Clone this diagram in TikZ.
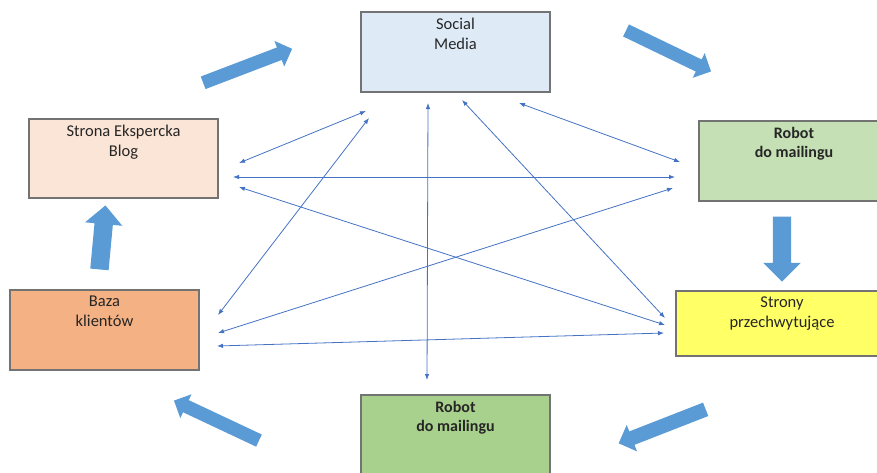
\documentclass[tikz,border=0pt]{standalone}
\usepackage{fontspec}
\setmainfont{Carlito}
\usetikzlibrary{calc,shapes.arrows,arrows.meta}

\definecolor{smfill}{HTML}{DEEBF7}
\definecolor{blogfill}{HTML}{FBE5D6}
\definecolor{robotfill}{HTML}{C5E0B4}
\definecolor{catchfill}{HTML}{FFFF66}
\definecolor{basefill}{HTML}{F4B183}
\definecolor{robot2fill}{HTML}{A9D18E}
\definecolor{arrowblue}{HTML}{5B9BD5}
\definecolor{linkblue}{HTML}{4472C4}

\tikzset{
  box/.style={draw=black!55, line width=1.1pt, minimum width=189pt, minimum height=80pt, inner sep=0pt},
  txt/.style={align=center, inner sep=0pt, anchor=north, text=black!85, font=\fontsize{16.5}{19.5}\selectfont},
  txtb/.style={txt, font=\fontsize{16}{19.5}\selectfont\bfseries},
  link/.style={draw=linkblue, line width=0.8pt, {Latex[length=6pt,width=4.5pt]}-{Latex[length=6pt,width=4.5pt]}},
  blockarrow/.style={single arrow, fill=arrowblue, draw=none, inner sep=0pt, text depth=0pt, single arrow tip angle=90}
}

\begin{document}
\begin{tikzpicture}[x=1pt,y=-1pt]
\useasboundingbox (0,0) rectangle (877,472);

% boxes
\node[box, fill=smfill] (sm) at (455.5,52) {};
\node[txt] (smtext) at ([yshift=-6.5pt]sm.north) {Social\\Media};

\node[box, fill=blogfill, minimum height=79pt] (blog) at (123.5,158.5) {};
\node[txt] (blogtext) at ([yshift=-6.5pt]blog.north) {Strona Ekspercka\\Blog};

\node[box, fill=robotfill, minimum width=190pt] (robot) at (794,161) {};
\node[txtb] (robottext) at ([yshift=-6.5pt]robot.north) {Robot\\do mailingu};

\node[box, fill=catchfill, minimum width=212pt, minimum height=65pt] (catch) at (782,323.5) {};
\node[txt] (catchtext) at ([yshift=-6.5pt]catch.north) {Strony\\przechwytujące};

\node[box, fill=basefill] (base) at (104.5,330) {};
\node[txt] (basetext) at ([yshift=-6.5pt]base.north) {Baza\\klientów};

\node[box, fill=robot2fill] (robot2) at (455.5,435) {};
\node[txtb] (robot2text) at ([yshift=-6.5pt]robot2.north) {Robot\\do mailingu};

% ends of the thin links
\coordinate (sm1) at (366,111);  \coordinate (blog1) at (239,163);
\coordinate (blog2) at (233,177); \coordinate (robot1) at (675,177);
\coordinate (blog3) at (239,187); \coordinate (catch1) at (665,325);
\coordinate (sm2) at (369,118);  \coordinate (base1) at (218,315);
\coordinate (sm3) at (428,103);  \coordinate (robot2a) at (427,380);
\coordinate (sm4) at (462,100);  \coordinate (catch2) at (665,318);
\coordinate (sm5) at (519,103);  \coordinate (robot2b) at (680,162);
\coordinate (robot3) at (673,188); \coordinate (base2) at (218,333);
\coordinate (catch3) at (664,333); \coordinate (base3) at (217,346);

\foreach \a/\b in {sm1/blog1, blog2/robot1, blog3/catch1, sm2/base1, sm3/robot2a,
                   sm4/catch2, sm5/robot2b, robot3/base2, catch3/base3}
  \draw[link] (\a) -- (\b);

% block arrows round the cycle
\coordinate (a1) at (200,84);  \coordinate (b1) at (289,50);
\coordinate (a2) at (623,29);  \coordinate (b2) at (708,70);
\coordinate (a3) at (782,212); \coordinate (b3) at (782,277);
\coordinate (a4) at (709,408); \coordinate (b4) at (622,442);
\coordinate (a5) at (262,442); \coordinate (b5) at (177,402);
\coordinate (a6) at (99,274);  \coordinate (b6) at (105,210);

\foreach \i/\s/\e in {1/13/7, 2/13/7, 3/18/9.5, 4/14/7, 5/13/6.5, 6/18/9.5}
  \path let \p1=($(b\i)-(a\i)$), \n1={veclen(\x1,\y1)} in
    (a\i) -- (b\i) node[midway, sloped, allow upside down, blockarrow,
      minimum height=\n1, text height=\s pt, single arrow head extend=\e pt] (arrow\i) {};

\end{tikzpicture}
\end{document}
